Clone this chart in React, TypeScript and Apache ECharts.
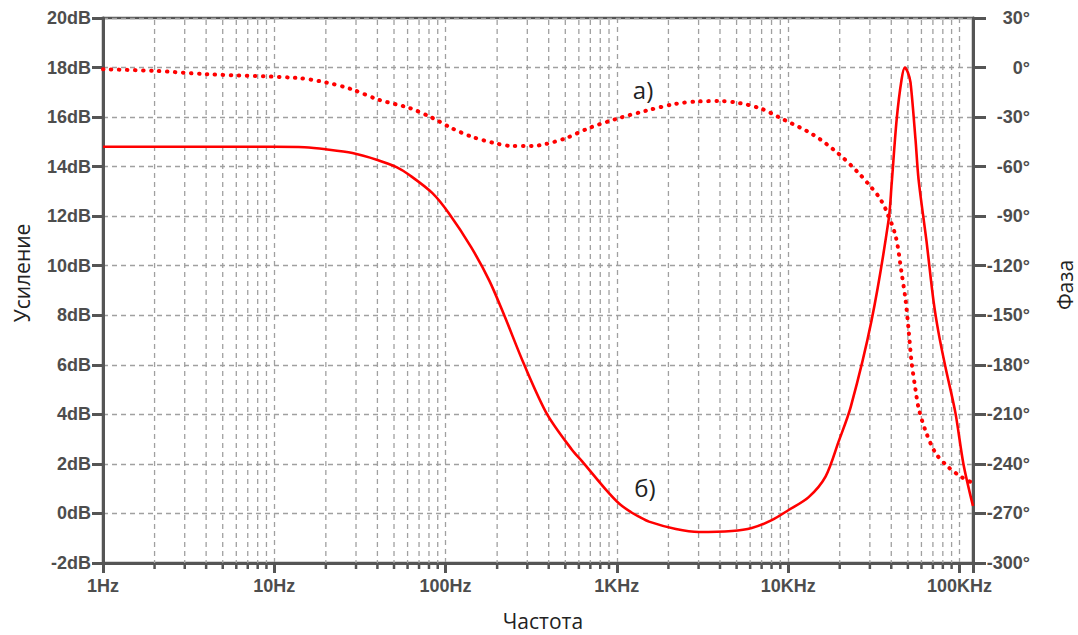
import React, { useEffect, useRef } from "react";
import * as echarts from "echarts";

// Gain curve б) : [frequency Hz, dB]
const gainData: [number, number][] = [
  [1, 14.8], [5, 14.8], [10, 14.8], [15, 14.78], [20, 14.7], [28.6, 14.55], [40, 14.27],
  [51.7, 13.98], [61.5, 13.66], [83.8, 12.93], [105, 12.1], [141, 10.75], [180, 9.4],
  [220, 8.0], [288, 6.0], [392, 4.0], [548, 2.56], [627, 2.1], [865, 0.95],
  [1030, 0.4], [1210, 0.05], [1346, -0.13], [1540, -0.33], [2210, -0.63], [3010, -0.75],
  [4690, -0.71], [6130, -0.59], [8020, -0.27], [10070, 0.14], [13180, 0.66],
  [16560, 1.5], [19700, 2.9], [23200, 4.3], [30700, 7.8], [38600, 11.85], [40200, 13.3],
  [43000, 15.9], [45900, 17.5], [48000, 18.0], [50000, 17.8], [51800, 17.4],
  [55400, 15.1], [57700, 13.5], [64200, 11.0], [70500, 8.6], [75500, 7.3],
  [82900, 5.9], [94800, 4.05], [105500, 2.0], [120000, 0.3],
];

// Phase curve а) : [frequency Hz, degrees]
const phaseData: [number, number][] = [
  [1, -1], [2, -2], [4, -4], [13.5, -6.3], [20, -9], [28, -13], [41, -19.6],
  [61.6, -24.5], [83.8, -30.5], [108, -36.6], [143, -42], [192, -45.7], [245, -47.5],
  [320, -47.5], [385, -46.3], [506, -42.7], [689, -36.6], [1000, -31], [1500, -26],
  [2200, -22], [3000, -20.5], [4000, -20.3], [5200, -21.5], [7000, -25], [8800, -30],
  [13900, -40.5], [19600, -52], [25800, -63.9], [29400, -70.5], [33700, -78],
  [37000, -85.5], [42400, -102], [45900, -124], [48500, -141], [50400, -158],
  [52500, -178], [55400, -195], [57700, -206], [63400, -220], [72500, -233.4],
  [86300, -242], [102800, -248], [120000, -251.6],
];

// Minor frequency grid positions (2..9 of each decade)
const minorFreqs: number[] = [
  2, 3, 4, 5, 6, 7, 8, 9,
  20, 30, 40, 50, 60, 70, 80, 90,
  200, 300, 400, 500, 600, 700, 800, 900,
  2000, 3000, 4000, 5000, 6000, 7000, 8000, 9000,
  20000, 30000, 40000, 50000, 60000, 70000, 80000, 90000,
];

const xTickValues = [1, 10, 100, 1000, 10000, 100000];
const xTickLabels = ["1Hz", "10Hz", "100Hz", "1KHz", "10KHz", "100KHz"];

const AXIS = "#555555";
const LABEL = "#4d4d4d";
const GRIDC = "#a0a0a0";
const RED = "#ff0000";

export default function App() {
  const ref = useRef<HTMLDivElement>(null);
  useEffect(() => {
    if (!ref.current) return;
    const chart = echarts.init(ref.current, null, { renderer: "svg" });
    const labelFont = {
      fontFamily: "Liberation Sans, Arial, sans-serif",
      fontWeight: "bold" as const,
      fontSize: 18,
      color: LABEL,
    };
    chart.setOption({
      animation: false,
      backgroundColor: "#ffffff",
      grid: {
        left: 103, right: 105, top: 18, bottom: 72,
        show: true, borderColor: AXIS, borderWidth: 2.5, backgroundColor: "transparent",
      },
      xAxis: {
        type: "log",
        logBase: 10,
        min: 1,
        max: 120000,
        interval: 1,
        axisLine: { show: true, onZero: false, lineStyle: { color: AXIS, width: 3 } },
        axisTick: { show: true, length: 10, lineStyle: { color: AXIS, width: 3 } },
        axisLabel: {
          ...labelFont,
          margin: 14,
          formatter: (v: number) => {
            const i = xTickValues.findIndex((t) => Math.abs(t - v) / t < 1e-6);
            return i >= 0 ? xTickLabels[i] : "";
          },
        },
        splitLine: { show: true, lineStyle: { color: GRIDC, type: [5, 4], width: 1.3 } },
        minorTick: { show: false },
      },
      yAxis: [
        {
          type: "value",
          min: -2,
          max: 20,
          interval: 2,
          position: "left",
          axisLine: { show: true, lineStyle: { color: AXIS, width: 3 } },
          axisTick: { show: true, length: 11, lineStyle: { color: AXIS, width: 3 } },
          axisLabel: { ...labelFont, margin: 12, formatter: (v: number) => `${v}dB` },
          splitLine: { show: true, lineStyle: { color: GRIDC, type: [5, 4], width: 1.3 } },
        },
        {
          type: "value",
          min: -300,
          max: 30,
          interval: 30,
          position: "right",
          axisLine: { show: true, lineStyle: { color: AXIS, width: 3 } },
          axisTick: { show: true, length: 13, lineStyle: { color: AXIS, width: 3 } },
          axisLabel: { ...labelFont, margin: 57, align: "right", formatter: (v: number) => `${v}°` },
          splitLine: { show: false },
        },
      ],
      series: [
        {
          type: "custom",
          xAxisIndex: 0,
          yAxisIndex: 0,
          silent: true,
          z: 1,
          data: minorFreqs.map((f) => [f, -2]),
          renderItem: (params: any, api: any) => {
            const x = api.coord([api.value(0), api.value(1)])[0];
            const cs = params.coordSys;
            const bottom = cs.y + cs.height;
            return {
              type: "group",
              children: [
                {
                  type: "line",
                  shape: { x1: x, y1: cs.y + 2, x2: x, y2: bottom },
                  style: { stroke: GRIDC, lineWidth: 1.3, lineDash: [5, 4] },
                },
                {
                  type: "line",
                  shape: { x1: x, y1: bottom, x2: x, y2: bottom + 6 },
                  style: { stroke: AXIS, lineWidth: 2.5 },
                },
              ],
            };
          },
        },
        {
          name: "б)",
          type: "line",
          yAxisIndex: 0,
          data: gainData,
          showSymbol: false,
          smooth: 0.3,
          z: 5,
          lineStyle: { color: RED, width: 2.6 },
        },
        {
          name: "а)",
          type: "line",
          yAxisIndex: 1,
          data: phaseData,
          showSymbol: false,
          smooth: 0.3,
          z: 4,
          lineStyle: { color: RED, width: 4, type: [0.5, 7.5], cap: "round" },
        },
      ],
      graphic: [
        {
          type: "text", x: 22, y: 273, rotation: Math.PI / 2,
          style: { text: "Усиление", font: '21px "Open Sans"', fill: "#222", align: "center", verticalAlign: "middle" },
        },
        {
          type: "text", x: 1065, y: 285, rotation: Math.PI / 2,
          style: { text: "Фаза", font: '21px "Open Sans"', fill: "#222", align: "center", verticalAlign: "middle" },
        },
        {
          type: "text", x: 543, y: 621,
          style: { text: "Частота", font: '21px "Open Sans"', fill: "#222", align: "center", verticalAlign: "middle" },
        },
        {
          type: "text", x: 643, y: 89,
          style: { text: "а)", font: '24px "Open Sans"', fill: "#222", align: "center", verticalAlign: "middle" },
        },
        {
          type: "text", x: 645, y: 487,
          style: { text: "б)", font: '24px "Open Sans"', fill: "#222", align: "center", verticalAlign: "middle" },
        },
      ],
    });
    return () => chart.dispose();
  }, []);
  return (
    <div
      ref={ref}
      style={{ position: "fixed", left: 0, top: 0, width: 1078, height: 635, background: "#fff" }}
    />
  );
}
